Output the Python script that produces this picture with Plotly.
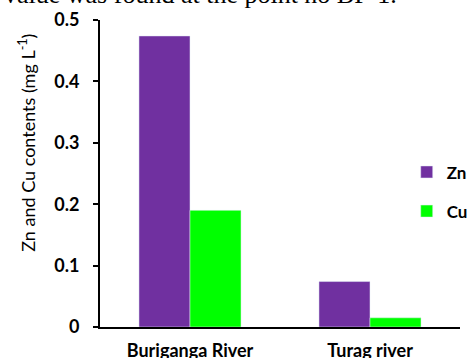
import plotly.graph_objects as go

# Rivers and metal concentrations (mg L-1)
rivers = ["Buriganga River", "Turag river"]
zn_values = [0.474, 0.074]
cu_values = [0.190, 0.015]
y_ticks = [0, 0.1, 0.2, 0.3, 0.4, 0.5]
y_tick_labels = ["0", "0.1", "0.2", "0.3", "0.4", "0.5"]

FONT = "Lato"

fig = go.Figure()
fig.add_trace(go.Bar(name="Zn", x=rivers, y=zn_values, marker_color="#7030A0",
                     legendgroup="zn"))
fig.add_trace(go.Bar(name="Cu", x=rivers, y=cu_values, marker_color="#00FF00",
                     legendgroup="cu"))

fig.update_layout(
    width=474,
    height=358,
    margin=dict(l=100, r=14, t=20, b=31, autoexpand=False),
    paper_bgcolor="white",
    plot_bgcolor="white",
    barmode="group",
    bargap=0.433,
    bargroupgap=0,
    font=dict(family=FONT, color="black"),
    showlegend=True,
    legend=dict(
        x=0.852, y=0.44, xanchor="left", yanchor="middle",
        font=dict(family=FONT, size=17, color="black", weight="bold"),
        itemwidth=30, tracegroupgap=14, bgcolor="rgba(0,0,0,0)",
    ),
    xaxis=dict(
        showline=True, linecolor="black", linewidth=2,
        ticks="", showgrid=False, automargin=False,
        tickfont=dict(family=FONT, size=18, weight="bold"),
        ticklabelstandoff=6,
    ),
    yaxis=dict(
        range=[0, 0.5], tickvals=y_ticks, ticktext=y_tick_labels,
        showline=True, linecolor="black", linewidth=2,
        ticks="outside", ticklen=5, tickwidth=2, tickcolor="black",
        showgrid=False, zeroline=False, automargin=False,
        tickfont=dict(family=FONT, size=18, weight="bold"),
        ticklabelstandoff=10,
    ),
    annotations=[
        dict(
            text="Zn and Cu contents (mg L<sup>-1</sup>)",
            xref="paper", yref="paper", x=-0.203, y=0.60,
            xanchor="center", yanchor="middle", textangle=-90,
            showarrow=False, font=dict(family=FONT, size=18, color="black"),
        ),
        dict(
            text="value was found at the point no BP-1.",
            xref="paper", yref="paper", x=-0.272, y=1.029,
            xanchor="left", yanchor="bottom",
            showarrow=False, font=dict(family="Liberation Serif", size=26, color="black"),
        ),
    ],
)

fig.write_html("out.html")
